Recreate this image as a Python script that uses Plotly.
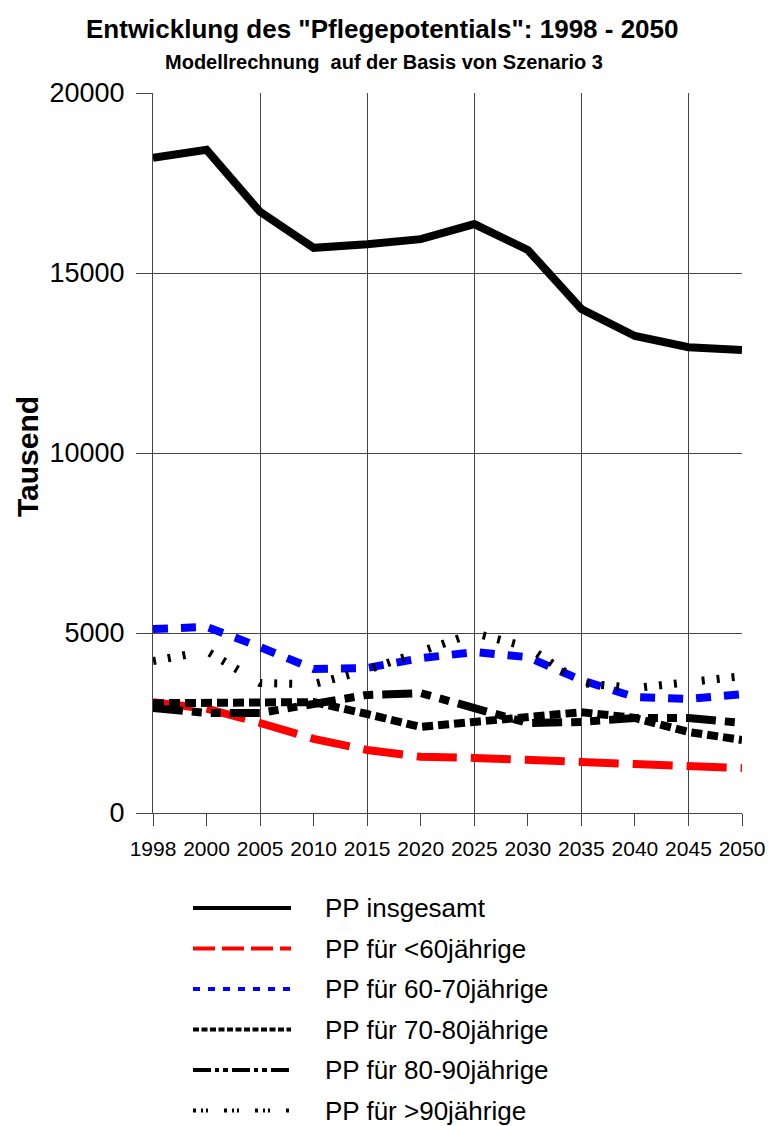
import plotly.graph_objects as go

# ---- data (thousands) ----
years = ["1998", "2000", "2005", "2010", "2015", "2020", "2025", "2030", "2035", "2040", "2045", "2050"]
pp_total = [18200, 18420, 16700, 15700, 15800, 15940, 16360, 15640, 14000, 13250, 12940, 12860]
pp_under60 = [3080, 2900, 2500, 2060, 1750, 1560, 1530, 1500, 1420, 1360, 1310, 1250]
pp_60_70 = [5110, 5170, 4610, 4000, 4030, 4300, 4470, 4330, 3690, 3220, 3170, 3300]
pp_70_80 = [3050, 3050, 3050, 3080, 2750, 2390, 2530, 2660, 2800, 2640, 2250, 2030]
pp_80_90 = [2920, 2780, 2780, 3050, 3280, 3330, 2940, 2500, 2530, 2640, 2640, 2500]
pp_over90 = [4220, 4500, 3610, 3580, 3970, 4470, 5000, 4610, 3610, 3470, 3610, 3800]

names = ["PP insgesamt", "PP für <60jährige", "PP für 60-70jährige",
         "PP für 70-80jährige", "PP für 80-90jährige", "PP für >90jährige"]
series = [pp_total, pp_under60, pp_60_70, pp_70_80, pp_80_90, pp_over90]
colors = ["black", "#ff0000", "#0000ff", "black", "black", "black"]
plot_dash = ["solid", "40px,14px", "15px,13px", "11px,5px",
             "30px,9px,10px,9px,10px,9px", "3px,12px,3px,12px,3px,25px"]
legend_dash = ["solid", "22px,7px", "7px,8px", "6px,2.5px",
               "18px,4px,4px,4px,5px,4px", "3px,5px,2px,3px,2px,16px"]

W, H = 769, 1126
L, R, T, B = 153, 27, 93, 313
PW, PH = W - L - R, H - T - B
FONT = "Liberation Sans, Arial, sans-serif"


def px_x(x):
    return (x - L) / PW


def px_y(y):
    return (H - B - y) / PH


xs = list(range(len(years)))

fig = go.Figure()
for name, vals, col, dash in zip(names, series, colors, plot_dash):
    fig.add_trace(go.Scatter(x=xs, y=vals, mode="lines", name=name,
                             line=dict(color=col, width=8, dash=dash),
                             showlegend=False, hoverinfo="skip"))

shapes = []
annotations = []
# legend drawn manually (long sample lines)
for i, (name, col, dash) in enumerate(zip(names, colors, legend_dash)):
    yy = 908 + i * 40.5
    shapes.append(dict(type="line", xref="paper", yref="paper",
                       x0=px_x(193), x1=px_x(291), y0=px_y(yy), y1=px_y(yy),
                       line=dict(color=col, width=4, dash=dash)))
    annotations.append(dict(text=name, xref="paper", yref="paper",
                            x=px_x(323), y=px_y(yy), xanchor="left", yanchor="middle",
                            showarrow=False, font=dict(size=26, color="black", family=FONT)))

annotations.append(dict(text="<b>Entwicklung des \"Pflegepotentials\": 1998 - 2050</b>",
                        xref="paper", yref="paper", x=px_x(382), y=px_y(29),
                        xanchor="center", yanchor="middle", showarrow=False,
                        font=dict(size=26, color="black", family=FONT)))
annotations.append(dict(text="<b>Modellrechnung\u00a0 auf der Basis von Szenario 3</b>",
                        xref="paper", yref="paper", x=px_x(384), y=px_y(62),
                        xanchor="center", yanchor="middle", showarrow=False,
                        font=dict(size=20, color="black", family=FONT)))
annotations.append(dict(text="<b>Tausend</b>", xref="paper", yref="paper",
                        x=px_x(27), y=px_y(457), textangle=-90,
                        xanchor="center", yanchor="middle", showarrow=False,
                        font=dict(size=30, color="black", family=FONT)))

fig.update_layout(
    width=W, height=H,
    margin=dict(l=L, r=R, t=T, b=B, autoexpand=False),
    paper_bgcolor="white", plot_bgcolor="white",
    showlegend=False,
    font=dict(family=FONT, color="black"),
    shapes=shapes, annotations=annotations,
    xaxis=dict(range=[0, len(years) - 1], tickmode="array", tickvals=xs, ticktext=years,
               ticks="outside", ticklen=12, tickcolor="#444", tickwidth=1,
               showline=True, linecolor="#444", linewidth=1,
               showgrid=False, zeroline=False, automargin=False,
               tickfont=dict(size=21, family=FONT, color="black"),
               ticklabelstandoff=5,
               minor=dict(tickmode="array", tickvals=xs[0::2], showgrid=True,
                          gridcolor="#444", gridwidth=1, ticks="")),
    yaxis=dict(range=[0, 20000], tickmode="array", tickvals=[0, 5000, 10000, 15000, 20000],
               ticktext=["0", "5000", "10000", "15000", "20000"],
               ticks="outside", ticklen=16, tickcolor="#444", tickwidth=1,
               showline=True, linecolor="#444", linewidth=1,
               showgrid=True, gridcolor="#444", gridwidth=1, zeroline=False,
               automargin=False,
               tickfont=dict(size=27, family=FONT, color="black"),
               ticklabelstandoff=6),
)

fig.write_html("out.html",
               config={"displayModeBar": False, "staticPlot": True},
               post_script="document.body.style.margin='0';"
                           "document.documentElement.style.overflow='hidden';")
